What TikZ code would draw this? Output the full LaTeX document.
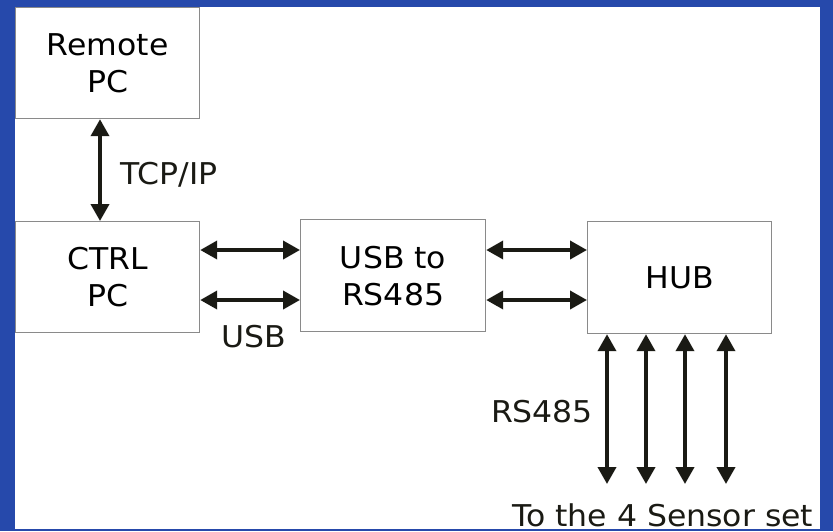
\documentclass[tikz,border=0pt]{standalone}
\usepackage{fontspec}
\setmainfont[FakeStretch=1.05]{DejaVu Sans}
\usetikzlibrary{arrows.meta}
\definecolor{bgblue}{HTML}{2649AB}
\definecolor{boxgray}{HTML}{8A8A8A}
\definecolor{arrowblack}{HTML}{1A1A14}
\begin{document}
\begin{tikzpicture}[x=1pt,y=-1pt,
 box/.style={draw=boxgray, line width=1.2pt, fill=white, inner sep=0pt, align=center,
   anchor=north west, font=\fontsize{30}{37}\selectfont},
 link/.style={line width=3.8pt, color=arrowblack,
   {Triangle[length=17pt,width=18pt]}-{Triangle[length=17pt,width=18pt]}},
 lbl/.style={font=\fontsize{30}{37}\selectfont, inner sep=0pt, text=arrowblack}]
\useasboundingbox (0,0) rectangle (833,531);
\fill[bgblue] (0,0) rectangle (833,531);
\fill[white] (15,7) rectangle (820,529);
\node[box, minimum width=184pt, minimum height=111pt] (remote) at (15,7) {Remote\\PC};
\node[box, minimum width=184pt, minimum height=111pt] (ctrl) at (15,221) {CTRL\\PC};
\node[box, minimum width=185pt, minimum height=112pt] (usb) at (300,219) {USB to\\RS485};
\node[box, minimum width=184pt, minimum height=112pt] (hub) at (587,221) {HUB};
\coordinate (cx) at (100,0);
\coordinate (r1) at (0,250);
\coordinate (r2) at (0,300);
\draw[link] (remote.south -| cx) -- (ctrl.north -| cx);
\draw[link] (ctrl.east |- r1) -- (usb.west |- r1);
\draw[link] (ctrl.east |- r2) -- (usb.west |- r2);
\draw[link] (usb.east |- r1) -- (hub.west |- r1);
\draw[link] (usb.east |- r2) -- (hub.west |- r2);
\coordinate (e1) at (607,484);
\coordinate (e2) at (646,484);
\coordinate (e3) at (685,484);
\coordinate (e4) at (726,484);
\draw[link] (hub.south -| e1) -- (e1);
\draw[link] (hub.south -| e2) -- (e2);
\draw[link] (hub.south -| e3) -- (e3);
\draw[link] (hub.south -| e4) -- (e4);
\node[lbl] (tcp) at (169,175) {TCP/IP};
\node[lbl] (usblbl) at (254,337) {USB};
\node[lbl] (rs) at (542,412) {RS485};
\node[lbl, anchor=base west] (sensor) at (512,526) {To the 4 Sensor set};
\end{tikzpicture}
\end{document}
